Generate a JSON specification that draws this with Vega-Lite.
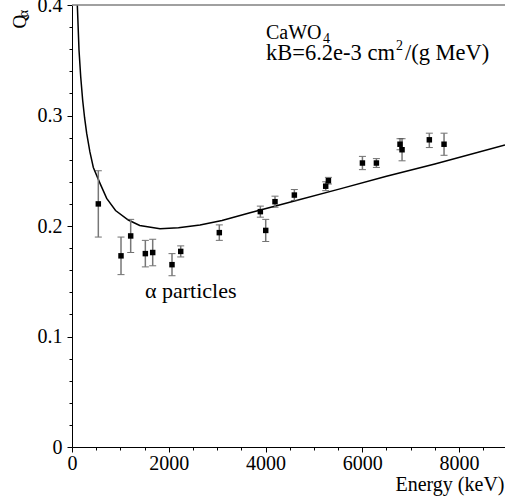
{
  "$schema": "https://vega.github.io/schema/vega-lite/v6.json",
  "width": 433,
  "height": 442,
  "autosize": {"type": "none"},
  "padding": {"left": 72, "top": 5, "right": 0, "bottom": 56},
  "background": "white",
  "config": {
    "view": {"stroke": null},
    "font": "Liberation Serif",
    "axis": {"grid": false, "domainColor": "black", "tickColor": "black", "labelColor": "black", "titleColor": "black", "labelFont": "Liberation Serif", "titleFont": "Liberation Serif", "titleFontWeight": "normal", "labelFontSize": 20, "titleFontSize": 20, "domainWidth": 1, "tickWidth": 1, "labelOverlap": false}
  },
  "resolve": {"axis": {"x": "independent", "y": "independent"}},
  "datasets": {
    "points": [
      {"E": 544, "Q": 0.220, "lo": 0.190, "hi": 0.250},
      {"E": 1013, "Q": 0.173, "lo": 0.156, "hi": 0.190},
      {"E": 1213, "Q": 0.191, "lo": 0.176, "hi": 0.206},
      {"E": 1516, "Q": 0.175, "lo": 0.163, "hi": 0.187},
      {"E": 1668, "Q": 0.176, "lo": 0.164, "hi": 0.188},
      {"E": 2067, "Q": 0.165, "lo": 0.155, "hi": 0.175},
      {"E": 2247, "Q": 0.177, "lo": 0.172, "hi": 0.182},
      {"E": 3045, "Q": 0.194, "lo": 0.187, "hi": 0.201},
      {"E": 3893, "Q": 0.213, "lo": 0.208, "hi": 0.218},
      {"E": 4004, "Q": 0.196, "lo": 0.186, "hi": 0.206},
      {"E": 4196, "Q": 0.222, "lo": 0.217, "hi": 0.227},
      {"E": 4596, "Q": 0.228, "lo": 0.223, "hi": 0.233},
      {"E": 5244, "Q": 0.236, "lo": 0.232, "hi": 0.240},
      {"E": 5300, "Q": 0.241, "lo": 0.238, "hi": 0.244},
      {"E": 6003, "Q": 0.257, "lo": 0.251, "hi": 0.263},
      {"E": 6292, "Q": 0.257, "lo": 0.253, "hi": 0.261},
      {"E": 6780, "Q": 0.274, "lo": 0.269, "hi": 0.279},
      {"E": 6822, "Q": 0.269, "lo": 0.259, "hi": 0.279},
      {"E": 7386, "Q": 0.278, "lo": 0.271, "hi": 0.284},
      {"E": 7690, "Q": 0.274, "lo": 0.264, "hi": 0.284}
    ],
    "curve": [
      {"E": 100, "Q": 0.415},
      {"E": 110, "Q": 0.400},
      {"E": 145, "Q": 0.359},
      {"E": 180, "Q": 0.335},
      {"E": 220, "Q": 0.314},
      {"E": 260, "Q": 0.298},
      {"E": 303, "Q": 0.284},
      {"E": 370, "Q": 0.267},
      {"E": 441, "Q": 0.253},
      {"E": 579, "Q": 0.2386},
      {"E": 717, "Q": 0.2250},
      {"E": 900, "Q": 0.2140},
      {"E": 1164, "Q": 0.2054},
      {"E": 1400, "Q": 0.2005},
      {"E": 1819, "Q": 0.1976},
      {"E": 2200, "Q": 0.1985},
      {"E": 2646, "Q": 0.2009},
      {"E": 3100, "Q": 0.2050},
      {"E": 3680, "Q": 0.2120},
      {"E": 4500, "Q": 0.2215},
      {"E": 5540, "Q": 0.2336},
      {"E": 6500, "Q": 0.2450},
      {"E": 7500, "Q": 0.2562},
      {"E": 8950, "Q": 0.2733}
    ],
    "one": [{}]
  },
  "layer": [
    {
      "data": {"name": "curve"},
      "mark": {"type": "line", "color": "black", "strokeWidth": 1.5, "clip": true},
      "encoding": {
        "x": {"field": "E", "type": "quantitative",
          "title": "Energy (keV)",
          "scale": {"domain": [0, 8950], "nice": false, "zero": false},
          "axis": {
            "values": [0, 500, 1000, 1500, 2000, 2500, 3000, 3500, 4000, 4500, 5000, 5500, 6000, 6500, 7000, 7500, 8000, 8500],
            "format": "d",
            "labelExpr": "datum.value % 2000 === 0 ? datum.label : ''",
            "tickSize": {"expr": "datum.value % 2000 === 0 ? 5 : 3"},
            "labelPadding": 1,
            "labelFlush": false,
            "labelOverlap": false,
            "titleAnchor": "end",
            "titleAlign": "right",
            "titleBaseline": "alphabetic",
            "titleX": 432,
            "titleY": 43
          }
        },
        "y": {"field": "Q", "type": "quantitative",
          "title": "Q",
          "scale": {"domain": [0, 0.4], "nice": false, "zero": false},
          "axis": {
            "values": [0, 0.02, 0.04, 0.06, 0.08, 0.1, 0.12, 0.14, 0.16, 0.18, 0.2, 0.22, 0.24, 0.26, 0.28, 0.3, 0.32, 0.34, 0.36, 0.38, 0.4],
            "format": "~g",
            "labelExpr": "abs(datum.value * 10 - round(datum.value * 10)) < 1e-6 ? datum.label : ''",
            "tickSize": {"expr": "abs(datum.value * 10 - round(datum.value * 10)) < 1e-6 ? 5 : 3"},
            "labelPadding": 5,
            "labelOverlap": false,
            "labelFlush": false,
            "titleAngle": 270,
            "titleAlign": "left",
            "titleBaseline": "alphabetic",
            "titleFontSize": 19,
            "titleX": -47,
            "titleY": 23
          }
        }
      }
    },
    {
      "data": {"name": "one"},
      "mark": {"type": "rule", "color": "#808080", "strokeWidth": 1.5},
      "encoding": {"y": {"datum": 0.4, "axis": null}}
    },
    {
      "data": {"name": "points"},
      "mark": {"type": "errorbar", "ticks": {"size": 7, "color": "#333", "thickness": 1}, "rule": {"color": "#777", "strokeWidth": 1.5}},
      "encoding": {
        "x": {"field": "E", "type": "quantitative", "axis": null},
        "y": {"field": "lo", "type": "quantitative", "axis": null},
        "y2": {"field": "hi"}
      }
    },
    {
      "data": {"name": "points"},
      "mark": {"type": "point", "shape": "square", "filled": true, "color": "black", "opacity": 1, "size": 30},
      "encoding": {
        "x": {"field": "E", "type": "quantitative", "axis": null},
        "y": {"field": "Q", "type": "quantitative", "axis": null}
      }
    },
    {
      "data": {"name": "one"},
      "mark": {"type": "text", "font": "Liberation Serif", "fontSize": 14, "angle": 270, "align": "left", "baseline": "alphabetic", "color": "black"},
      "encoding": {"x": {"datum": -900, "axis": null}, "y": {"datum": 0.389, "axis": null}, "text": {"value": "α"}}
    },
    {
      "data": {"name": "one"},
      "mark": {"type": "text", "font": "Liberation Serif", "fontSize": 20, "align": "left", "baseline": "alphabetic", "color": "black"},
      "encoding": {"x": {"datum": 4010, "axis": null}, "y": {"datum": 0.369, "axis": null}, "text": {"value": "CaWO"}}
    },
    {
      "data": {"name": "one"},
      "mark": {"type": "text", "font": "Liberation Serif", "fontSize": 14, "align": "left", "baseline": "alphabetic", "color": "black"},
      "encoding": {"x": {"datum": 5188, "axis": null}, "y": {"datum": 0.3653, "axis": null}, "text": {"value": "4"}}
    },
    {
      "data": {"name": "one"},
      "mark": {"type": "text", "font": "Liberation Serif", "fontSize": 22.5, "align": "left", "baseline": "alphabetic", "color": "black"},
      "encoding": {"x": {"datum": 4010, "axis": null}, "y": {"datum": 0.3502, "axis": null}, "text": {"value": "kB=6.2e-3 cm"}}
    },
    {
      "data": {"name": "one"},
      "mark": {"type": "text", "font": "Liberation Serif", "fontSize": 14, "align": "left", "baseline": "alphabetic", "color": "black"},
      "encoding": {"x": {"datum": 6697, "axis": null}, "y": {"datum": 0.3593, "axis": null}, "text": {"value": "2"}}
    },
    {
      "data": {"name": "one"},
      "mark": {"type": "text", "font": "Liberation Serif", "fontSize": 22.5, "align": "left", "baseline": "alphabetic", "color": "black"},
      "encoding": {"x": {"datum": 6883, "axis": null}, "y": {"datum": 0.3502, "axis": null}, "text": {"value": "/(g MeV)"}}
    },
    {
      "data": {"name": "one"},
      "mark": {"type": "text", "font": "Liberation Serif", "fontSize": 22, "align": "left", "baseline": "alphabetic", "color": "black"},
      "encoding": {"x": {"datum": 1509, "axis": null}, "y": {"datum": 0.1348, "axis": null}, "text": {"value": "α particles"}}
    }
  ]
}
